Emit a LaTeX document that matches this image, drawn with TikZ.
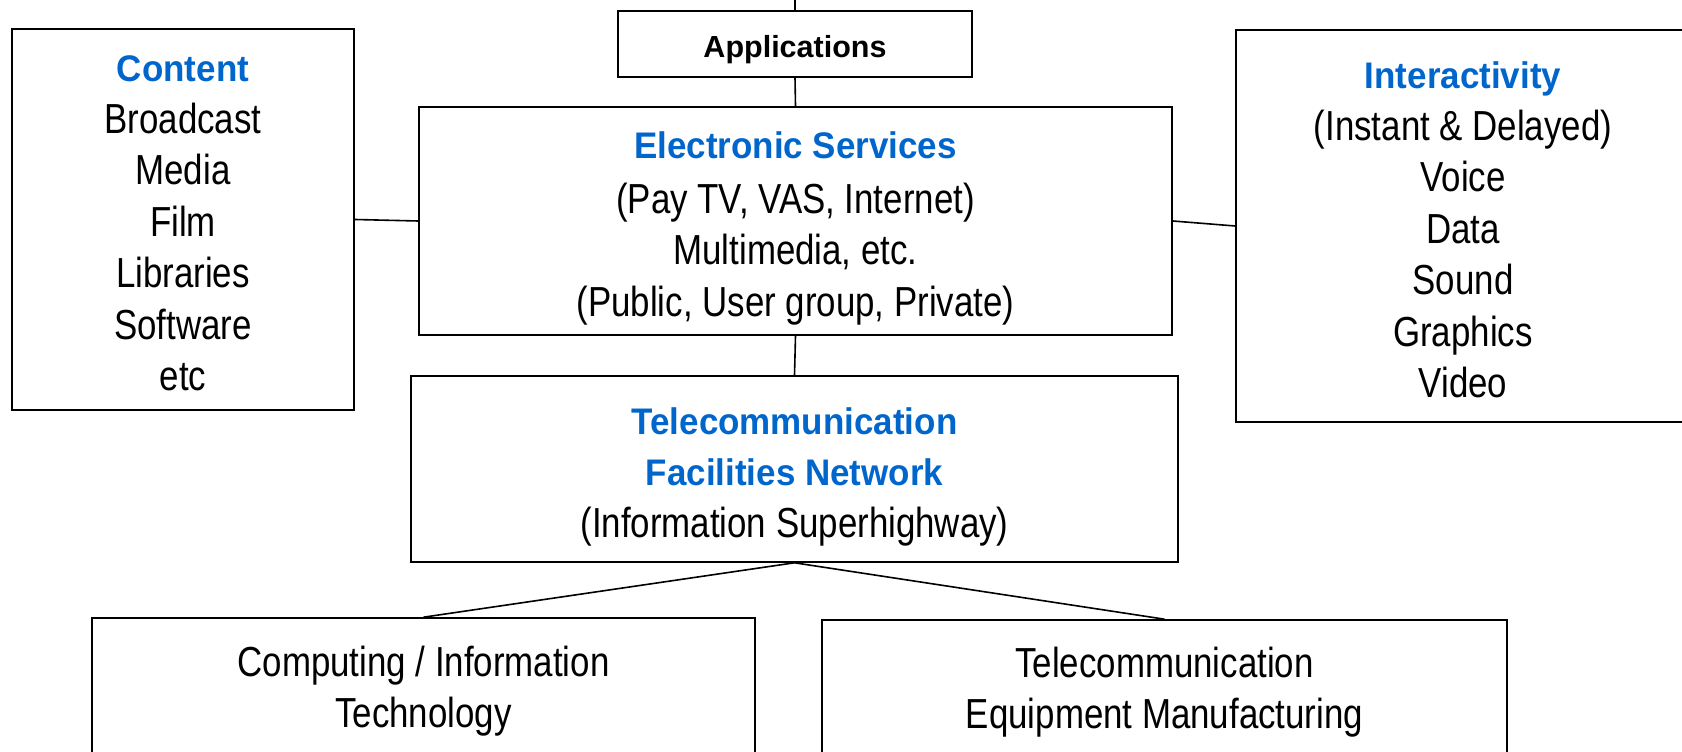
\documentclass[tikz,border=0pt]{standalone}
\usepackage{fontspec}
\setmainfont{Liberation Sans}
\newfontfamily\bodyfont{Liberation Sans}[FakeStretch=0.83]
\newfontfamily\headfont{Liberation Sans}[FakeStretch=0.945]
\usepackage{xcolor}
\usepackage{tikz}
\usetikzlibrary{positioning}

\definecolor{headblue}{RGB}{0,102,204}
\newcommand{\headtext}[1]{{\fontsize{37}{51.5}\headfont\bfseries\color{headblue}#1}}
\newcommand{\topgap}[1]{\rule{0pt}{#1pt}}

\begin{document}
\begin{tikzpicture}[x=1pt, y=1pt, every node/.style={align=center},
  box/.style={draw, line width=1.6pt, inner sep=0pt, font={\fontsize{42}{51.5}\bodyfont}},
  link/.style={line width=1.6pt}]
\useasboundingbox (0,0) rectangle (1682,752);
\clip (0,0) rectangle (1682,752);
% Applications
\node[box, minimum width=354, minimum height=66, font={\fontsize{30.5}{36}\selectfont\bfseries}] (apps) at (795,708) {\topgap{33}Applications};
\coordinate (top) at (795,770);
% Electronic services
\node[box, minimum width=753, minimum height=228] (services) at (795.5,531) {\topgap{42}\headtext{Electronic Services}\\[3pt] (Pay TV, VAS, Internet)\\ Multimedia, etc.\\ (Public, User group, Private)};
% Content
\node[box, minimum width=342, minimum height=381] (content) at (183,532.5) {\topgap{33.5}\headtext{Content}\\ Broadcast\\ Media\\ Film\\ Libraries\\ Software\\ etc};
% Interactivity
\node[box, minimum width=454, minimum height=392] (interact) at (1463,526) {\topgap{34.5}\headtext{Interactivity}\\ (Instant \& Delayed)\\ Voice\\ Data\\ Sound\\ Graphics\\ Video};
% Network
\node[box, minimum width=767, minimum height=186] (network) at (794.5,283) {\topgap{42}\headtext{Telecommunication}\\ \headtext{Facilities Network}\\ (Information Superhighway)};
% Bottom row
\node[box, minimum width=663, minimum height=140] (computing) at (423.5,64) {\topgap{37}Computing / Information\\ Technology};
\node[box, minimum width=685, minimum height=138] (equipment) at (1164.5,63) {\topgap{37}Telecommunication\\ Equipment Manufacturing};
% Links
\draw[link] (top) -- (apps.north);
\draw[link] (apps.south) -- (services.north);
\draw[link] (content.east) -- (services.west);
\draw[link] (services.east) -- (interact.west);
\draw[link] (services.south) -- (network.north);
\draw[link] (network.south) -- (computing.north);
\draw[link] (network.south) -- (equipment.north);
\end{tikzpicture}
\end{document}
